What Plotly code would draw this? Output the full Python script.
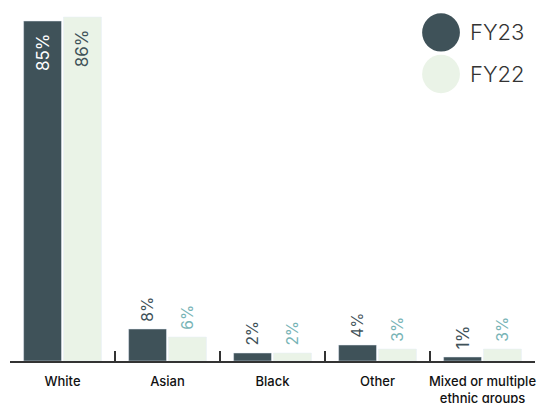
import plotly.graph_objects as go

categories = ["White", "Asian", "Black", "Other", "Mixed or multiple<br>ethnic groups"]
fy23 = [85, 8, 2, 4, 1]
fy22 = [86, 6, 2, 3, 3]
series_names = ["FY23", "FY22"]

dark = "#3f5259"
light = "#eaf3e7"
teal = "#78b4b6"
FONT = "Inter"
NB = "\u00a0"

def txt(vals):
    return [f"{NB}{v}%{NB}{NB}" for v in vals]

fig = go.Figure()
fig.add_trace(go.Bar(
    x=categories, y=fy23, name=series_names[0], marker_color=dark,
    text=txt(fy23), textposition=["inside"] + ["outside"] * 4,
    insidetextanchor="end", textangle=-90, cliponaxis=False,
    outsidetextfont=dict(family=FONT, size=17, color=dark),
    insidetextfont=dict(family=FONT, size=17, color="white"),
    showlegend=False,
))
fig.add_trace(go.Bar(
    x=categories, y=fy22, name=series_names[1], marker_color=light,
    text=txt(fy22), textposition=["inside"] + ["outside"] * 4,
    insidetextanchor="end", textangle=-90, cliponaxis=False,
    outsidetextfont=dict(family=FONT, size=17, color=teal),
    insidetextfont=dict(family=FONT, size=17, color=dark),
    showlegend=False,
))

# custom legend (large circles)
legend_items = [(series_names[0], dark, 0.91), (series_names[1], light, 0.795)]
for name, col, yc in legend_items:
    fig.add_shape(type="circle", xref="paper", yref="paper",
                  x0=0.785, x1=0.857, y0=yc - 0.053, y1=yc + 0.053,
                  fillcolor=col, line=dict(width=0))
    fig.add_annotation(x=0.872, y=yc, xref="paper", yref="paper", text=name,
                       showarrow=False, xanchor="left", yanchor="middle",
                       font=dict(family=FONT, size=22, color="#333333", weight=300))

fig.update_layout(
    width=537, height=403,
    margin=dict(l=10, r=2, t=0, b=42),
    barmode="group", bargap=0.24, bargroupgap=0.05,
    plot_bgcolor="white", paper_bgcolor="white",
    showlegend=False,
)
fig.update_xaxes(
    showline=True, linecolor="#333333", linewidth=1.5,
    ticks="inside", ticklen=10, tickcolor="#333333", tickwidth=1.5,
    tickson="boundaries", showgrid=False, tickangle=0, automargin=False,
    ticklabelstandoff=8,
    tickfont=dict(family=FONT, size=13, color="#111111", weight=500),
)
fig.update_yaxes(range=[0, 90.25], visible=False, showgrid=False)

fig.write_html("out.html")
